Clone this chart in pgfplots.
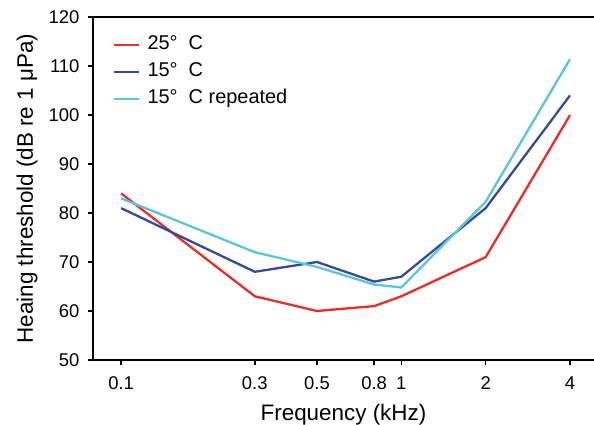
\documentclass[border=0pt]{standalone}
\usepackage{pgfplots}
\pgfplotsset{compat=1.18}
\usepackage{fontspec}
\setmainfont{Liberation Sans}
\definecolor{cred}{RGB}{237,45,36}
\definecolor{cblue}{RGB}{52,74,158}
\definecolor{ccyan}{RGB}{88,198,222}
\begin{document}
\begin{tikzpicture}
\begin{axis}[
  at={(0,0)}, anchor=south west,
  scale only axis, width=501bp, height=343bp,
  xmode=log, xmin=0.0794, xmax=4.87,
  ymin=50, ymax=120,
  axis lines=left, axis line style={-, line width=1.6pt},
  xtick={0.1,0.3,0.5,0.8,1,2,4},
  xticklabels={0.1,0.3,0.5,0.8,1,2,4},
  ytick={50,60,70,80,90,100,110,120},
  minor tick num=0, log ticks with fixed point,
  tick style={line width=1.6pt, black},
  major tick length=5bp,
  tick align=outside,
  /pgf/number format/assume math mode=true,
  ticklabel style={font=\fontsize{18.5}{22}\selectfont},
  xticklabel style={anchor=base, yshift=-24.5bp},
  yticklabel style={xshift=-5bp},
  xlabel={Frequency (kHz)},
  ylabel={Heaing threshold (dB re 1 μPa)},
  label style={font=\fontsize{22.5}{26}\selectfont},
  xlabel style={at={(axis description cs:0.5,-0.175)}, anchor=base},
  ylabel style={at={(axis description cs:-0.1198,0.5)}, anchor=base},
  legend style={draw=none, fill=none, at={(axis description cs:0.04,0.946)}, anchor=north west,
    font=\fontsize{20}{24}\selectfont, row sep=9bp, inner sep=0pt,
    nodes={text height=14bp, text depth=4bp, inner xsep=7bp, inner ysep=0pt}},
  legend cell align=left,
  legend image code/.code={\draw[#1] (0bp,0bp) -- (25bp,0bp);},
  clip=false,
]
\addplot[cred, line width=2.3pt] coordinates {(0.1,84) (0.3,63) (0.5,60) (0.8,61) (1,63) (2,71) (4,100)};
\addlegendentry{25°\ \ C}
\addplot[cblue, line width=2.3pt] coordinates {(0.1,81) (0.3,68) (0.5,70) (0.8,66) (1,67) (2,81) (4,104)};
\addlegendentry{15°\ \ C}
\addplot[ccyan, line width=2.3pt] coordinates {(0.1,83) (0.3,72) (0.5,69) (0.8,65.4) (1,64.8) (2,82.3) (4,111.4)};
\addlegendentry{15°\ \ C repeated}
\draw[line width=1.6pt] (rel axis cs:0,1) -- (rel axis cs:1,1);
\end{axis}
\pgfresetboundingbox
\useasboundingbox (-93bp,-65bp) rectangle (501bp,360bp);
\end{tikzpicture}
\end{document}
